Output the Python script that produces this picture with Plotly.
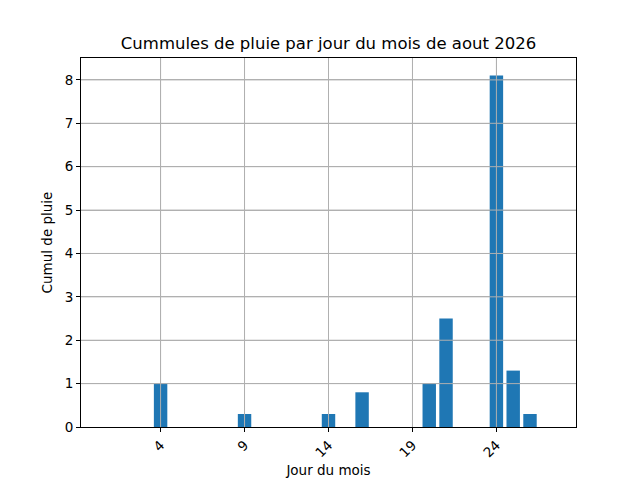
import plotly.graph_objects as go

# Cumul de pluie par jour (aout 2026)
jours = [4, 9, 14, 16, 20, 21, 24, 25, 26]
cumuls = [1.0, 0.3, 0.3, 0.8, 1.0, 2.5, 8.1, 1.3, 0.3]
ticks_x = [4, 9, 14, 19, 24]
ticks_y = [0, 1, 2, 3, 4, 5, 6, 7, 8]

GRID = "#b0b0b0"

fig = go.Figure(go.Bar(x=jours, y=cumuls, width=0.8, marker_color="#1f77b4",
                       marker_line_width=0))

axis_style = dict(showline=True, linecolor="black", linewidth=1, mirror=True,
                  showgrid=True, gridcolor=GRID, gridwidth=1,
                  ticks="outside", ticklen=4, tickcolor="black", zeroline=False,
                  layer="above traces", automargin=False,
                  tickfont=dict(size=13.5, color="black"))

fig.update_xaxes(range=[-0.74, 28.74], tickvals=ticks_x, tickangle=-45,
                 title=dict(text="Jour du mois", font=dict(size=13.5), standoff=6),
                 **axis_style)
fig.update_yaxes(range=[0, 8.505], tickvals=ticks_y,
                 title=dict(text="Cumul de pluie", font=dict(size=13.5), standoff=8),
                 **axis_style)

# grid drawn over the bars, like matplotlib does here
for t in ticks_x:
    fig.add_shape(type="line", xref="x", yref="paper", x0=t, x1=t, y0=0, y1=1,
                  line=dict(color=GRID, width=1), layer="above")
for t in ticks_y[1:]:
    fig.add_shape(type="line", xref="paper", yref="y", x0=0, x1=1, y0=t, y1=t,
                  line=dict(color=GRID, width=1), layer="above")

# the page puts the figure 8px from the top-left corner, margins take that in
fig.update_layout(
    width=640, height=480,
    margin=dict(l=73, r=72, t=50, b=61),
    paper_bgcolor="white", plot_bgcolor="white",
    font=dict(family="DejaVu Sans", color="black"),
    title=dict(text="Cummules de pluie par jour du mois de aout 2026",
               x=0.5, xanchor="center", xref="paper", y=0.927, yanchor="middle",
               font=dict(size=16.5)),
    showlegend=False,
)

fig.write_html("out.html")
